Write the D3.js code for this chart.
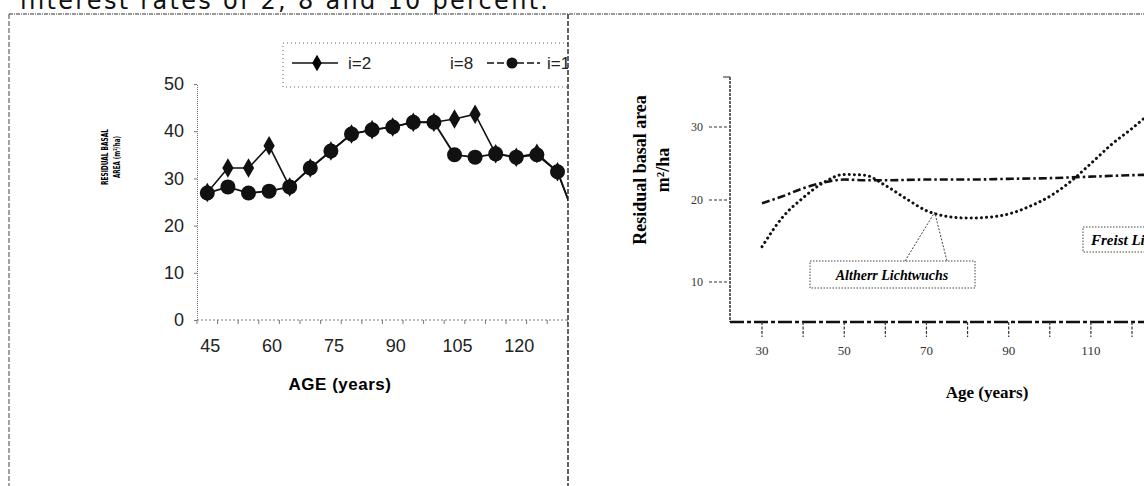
<!DOCTYPE html>
<html>
<head>
<meta charset="utf-8">
<script src="https://cdn.jsdelivr.net/npm/d3@7"></script>
<style>
  body { margin: 0; background: #fff; }
  svg { display: block; }
</style>
</head>
<body>
<svg width="1144" height="486"></svg>
<script>
/* global d3 */
// left chart: residual basal area by age, interest rate i
var ages = [45, 50, 55, 60, 65, 70, 75, 80, 85, 90, 95, 100, 105, 110, 115, 120, 125, 130, 135]
var tickAges = [45, 60, 75, 90, 105, 120, 135]
var i2 = [27, 32.2, 32.2, 36.9, 28.2, 32.2, 35.8, 39.4, 40.3, 40.9, 41.9, 41.9, 42.6, 43.6, 35.2, 34.5, 35.3, 31.4, 20]
var i10 = [26.9, 28.2, 26.9, 27.3, 28.2, 32.2, 35.8, 39.4, 40.3, 40.9, 41.9, 41.9, 35.0, 34.5, 35.2, 34.5, 35.0, 31.4, 20]
var leftYTicks = [0, 10, 20, 30, 40, 50]
var legendLabels = ['i=2', 'i=8', 'i=10']

// right chart: thinning regimes
var altherrAges = [30, 35, 40, 45, 50, 55, 60, 65, 70, 75, 80, 85, 90, 95, 100, 105, 110, 115, 120, 125]
var altherr = [14.3, 17.9, 20.3, 22.4, 23.5, 23.4, 22.0, 20.2, 18.7, 18.0, 17.8, 17.9, 18.3, 19.2, 20.5, 22.5, 25.0, 27.6, 29.8, 32.2]
var freistAges = [30, 35, 40, 45, 50, 55, 60, 70, 80, 90, 100, 110, 120, 130]
var freist = [19.6, 20.5, 21.6, 22.4, 22.8, 22.7, 22.7, 22.8, 22.8, 22.9, 23.0, 23.2, 23.4, 23.5]
var rightXTicks = [30, 40, 50, 60, 70, 80, 90, 100, 110, 120]
var rightXLabels = [30, 50, 70, 90, 110]
var rightYTicks = [10, 20, 30]

var svg = d3.select('svg')

// top caption, cropped at the page edge
svg.append('text')
    .attr('x', 20)
    .attr('y', 9)
    .attr('textLength', 528)
    .attr('font-family', 'DejaVu Sans')
    .attr('font-size', 24)
    .attr('fill', '#111')
    .text('interest rates of 2, 8 and 10 percent.')

// frame
svg.append('line').attr('x1', 9).attr('x2', 1144).attr('y1', 14).attr('y2', 14)
    .attr('stroke', '#333').attr('stroke-width', 1.2).attr('stroke-dasharray', '4,1,1,1')
svg.append('line').attr('x1', 9).attr('x2', 9).attr('y1', 14).attr('y2', 486)
    .attr('stroke', '#444').attr('stroke-width', 1).attr('stroke-dasharray', '5,2')

// ---------- left chart ----------
svg.append('clipPath').attr('id', 'leftClip')
  .append('rect').attr('x', 0).attr('y', 0).attr('width', 568).attr('height', 486)

var left = svg.append('g').attr('clip-path', 'url(#leftClip)')

var x = d3.scaleBand().domain(ages).range([197, 197 + 19 * 20.6])
var cx = function (a) { return x(a) + x.bandwidth() / 2 }
var y = d3.scaleLinear().domain([0, 50]).range([320, 84])

// y axis
var yAxis = left.append('g')
    .attr('transform', 'translate(197,0)')
    .call(d3.axisLeft(y).tickValues(leftYTicks).tickSize(3).tickPadding(10))
yAxis.select('.domain').attr('stroke', '#777').attr('stroke-dasharray', '1,1')
yAxis.selectAll('.tick line').attr('stroke', '#777')
yAxis.selectAll('text')
    .attr('font-family', 'Liberation Sans, Arial')
    .attr('font-size', 18)
    .attr('fill', '#222')

// x axis: ticks between categories, labels every third category
var xAxisG = left.append('g').attr('transform', 'translate(0,320)')
xAxisG.append('line')
    .attr('x1', 197).attr('x2', 600)
    .attr('stroke', '#777').attr('stroke-dasharray', '2,2')
xAxisG.selectAll('.tk')
  .data(ages)
  .enter().append('line')
    .attr('x1', d => x(d)).attr('x2', d => x(d))
    .attr('y1', 0).attr('y2', 4)
    .attr('stroke', '#777')
xAxisG.selectAll('.lbl')
  .data(tickAges)
  .enter().append('text')
    .attr('x', d => cx(d) + 3)
    .attr('y', 32)
    .attr('text-anchor', 'middle')
    .attr('font-family', 'Liberation Sans, Arial')
    .attr('font-size', 18)
    .attr('fill', '#222')
    .text(d => d)

left.append('text')
    .attr('x', 340).attr('y', 390)
    .attr('text-anchor', 'middle')
    .attr('font-family', 'Liberation Sans, Arial')
    .attr('font-weight', 'bold')
    .attr('font-size', 17)
    .attr('letter-spacing', 0.5)
    .text('AGE (years)')

// tiny rotated y title
var yt = left.append('text')
    .attr('transform', 'translate(108,157) rotate(-90)')
    .attr('text-anchor', 'middle')
    .attr('font-family', 'DejaVu Sans')
    .attr('font-weight', 'bold')
    .attr('font-size', 8.5)
yt.append('tspan').attr('x', 0).attr('dy', 0).attr('textLength', 56).attr('lengthAdjust', 'spacingAndGlyphs').text('RESIDUAL BASAL')
yt.append('tspan').attr('x', 0).attr('dy', 12).attr('textLength', 42).attr('lengthAdjust', 'spacingAndGlyphs').text('AREA (m²/ha)')

var line = d3.line()
    .x((d, i) => cx(ages[i]))
    .y(d => y(d))

left.append('path')
    .datum(i2)
    .attr('fill', 'none')
    .attr('stroke', '#111')
    .attr('stroke-width', 1.6)
    .attr('d', line)

left.append('path')
    .datum(i10)
    .attr('fill', 'none')
    .attr('stroke', '#111')
    .attr('stroke-width', 1.8)
    .attr('d', line)

left.selectAll('.dia')
  .data(i2)
  .enter().append('path')
    .attr('d', d3.symbol().type(d3.symbolDiamond).size(110))
    .attr('transform', (d, i) => 'translate(' + cx(ages[i]) + ',' + y(d) + ')')
    .attr('fill', '#111')

left.selectAll('.dot')
  .data(i10)
  .enter().append('circle')
    .attr('cx', (d, i) => cx(ages[i]))
    .attr('cy', d => y(d))
    .attr('r', 7.5)
    .attr('fill', '#111')

// legend
var lg = left.append('g')
lg.append('rect')
    .attr('x', 283).attr('y', 43).attr('width', 300).attr('height', 44)
    .attr('fill', 'none').attr('stroke', '#666').attr('stroke-dasharray', '1,3')
lg.append('line').attr('x1', 292).attr('x2', 338).attr('y1', 63).attr('y2', 63).attr('stroke', '#111').attr('stroke-width', 1.6)
lg.append('path')
    .attr('d', d3.symbol().type(d3.symbolDiamond).size(80))
    .attr('transform', 'translate(317,63)')
lg.append('line').attr('x1', 487).attr('x2', 540).attr('y1', 63).attr('y2', 63)
    .attr('stroke', '#111').attr('stroke-width', 1.6).attr('stroke-dasharray', '7,3')
lg.append('circle').attr('cx', 512).attr('cy', 63).attr('r', 5.5).attr('fill', '#111')
lg.selectAll('.lt')
  .data(legendLabels)
  .enter().append('text')
    .attr('x', (d, i) => [348, 450, 547][i])
    .attr('y', 69)
    .attr('font-family', 'Liberation Sans, Arial')
    .attr('font-size', 17)
    .attr('fill', '#222')
    .text(d => d)

// panel divider
svg.append('line').attr('x1', 568).attr('x2', 568).attr('y1', 14).attr('y2', 486)
    .attr('stroke', '#222').attr('stroke-width', 1.4).attr('stroke-dasharray', '5,2')

// ---------- right chart ----------
var right = svg.append('g')
var xr = d3.scaleLinear().domain([30, 120]).range([762, 1132])
var yr = d3.scaleLinear().domain([5, 10, 20, 30]).range([322, 282, 200, 127])

// axes
right.append('line').attr('x1', 730).attr('x2', 730).attr('y1', 77).attr('y2', 322)
    .attr('stroke', '#222').attr('stroke-width', 1.4).attr('stroke-dasharray', '3,1')
right.append('line').attr('x1', 723).attr('x2', 730).attr('y1', 77).attr('y2', 77)
    .attr('stroke', '#222')
right.append('line').attr('x1', 730).attr('x2', 1144).attr('y1', 322).attr('y2', 322)
    .attr('stroke', '#111').attr('stroke-width', 2.4).attr('stroke-dasharray', '14,3,4,3')

right.selectAll('.ytk')
  .data(rightYTicks)
  .enter().append('line')
    .attr('x1', 709).attr('x2', 728)
    .attr('y1', d => yr(d)).attr('y2', d => yr(d))
    .attr('stroke', '#333').attr('stroke-dasharray', '3,2')
right.selectAll('.ylb')
  .data(rightYTicks)
  .enter().append('text')
    .attr('x', 697).attr('y', d => yr(d) + 4)
    .attr('text-anchor', 'middle')
    .attr('font-family', 'Liberation Serif')
    .attr('font-size', 12)
    .attr('fill', '#333')
    .text(d => d)

right.selectAll('.xtk')
  .data(rightXTicks)
  .enter().append('line')
    .attr('x1', d => xr(d)).attr('x2', d => xr(d))
    .attr('y1', 322).attr('y2', 337)
    .attr('stroke', '#333').attr('stroke-width', 1.2).attr('stroke-dasharray', '3,1.5')
right.selectAll('.xlb')
  .data(rightXLabels)
  .enter().append('text')
    .attr('x', d => xr(d)).attr('y', 355)
    .attr('text-anchor', 'middle')
    .attr('font-family', 'Liberation Serif')
    .attr('font-size', 13)
    .attr('fill', '#333')
    .text(d => d)

right.append('text')
    .attr('x', 987).attr('y', 398)
    .attr('text-anchor', 'middle')
    .attr('font-family', 'Liberation Serif')
    .attr('font-weight', 'bold')
    .attr('font-size', 17)
    .text('Age (years)')

var ryt = right.append('text')
    .attr('transform', 'translate(0,170) rotate(-90)')
    .attr('text-anchor', 'middle')
    .attr('font-family', 'Liberation Serif')
    .attr('font-weight', 'bold')
    .attr('font-size', 18)
ryt.append('tspan').attr('x', 0).attr('y', 646).text('Residual basal area')
ryt.append('tspan').attr('x', 0).attr('y', 669).text('m²/ha')

var rline = function (xs) {
  return d3.line()
      .curve(d3.curveMonotoneX)
      .x((d, i) => xr(xs[i]))
      .y(d => yr(d))
}

right.append('path')
    .datum(freist)
    .attr('fill', 'none')
    .attr('stroke', '#111')
    .attr('stroke-width', 2.6)
    .attr('stroke-dasharray', '8,3,2.5,3')
    .attr('d', rline(freistAges))

right.append('path')
    .datum(altherr)
    .attr('fill', 'none')
    .attr('stroke', '#111')
    .attr('stroke-width', 3)
    .attr('stroke-linecap', 'round')
    .attr('stroke-dasharray', '0.1,5')
    .attr('d', rline(altherrAges))

// annotation: Altherr Lichtwuchs
var anchorX = xr(72)
var anchorY = yr(18.5)
right.append('path')
    .attr('d', 'M905,261L' + anchorX + ',' + anchorY + 'L947,261')
    .attr('fill', 'none').attr('stroke', '#444').attr('stroke-dasharray', '2,1.5')
right.append('rect')
    .attr('x', 810).attr('y', 261).attr('width', 165).attr('height', 27)
    .attr('fill', '#fff').attr('stroke', '#444').attr('stroke-dasharray', '1.5,1.5')
right.append('text')
    .attr('x', 892).attr('y', 280)
    .attr('text-anchor', 'middle')
    .attr('font-family', 'Liberation Serif')
    .attr('font-style', 'italic')
    .attr('font-weight', 'bold')
    .attr('font-size', 14)
    .text('Altherr Lichtwuchs')

// annotation: Freist Lichtwuchs (cut by page edge, as in the source)
right.append('rect')
    .attr('x', 1083).attr('y', 227).attr('width', 140).attr('height', 25)
    .attr('fill', '#fff').attr('stroke', '#444').attr('stroke-dasharray', '1.5,1.5')
right.append('text')
    .attr('x', 1091).attr('y', 245)
    .attr('font-family', 'Liberation Serif')
    .attr('font-style', 'italic')
    .attr('font-weight', 'bold')
    .attr('font-size', 15)
    .text('Freist Lichtwuchs')
</script>
</body>
</html>
